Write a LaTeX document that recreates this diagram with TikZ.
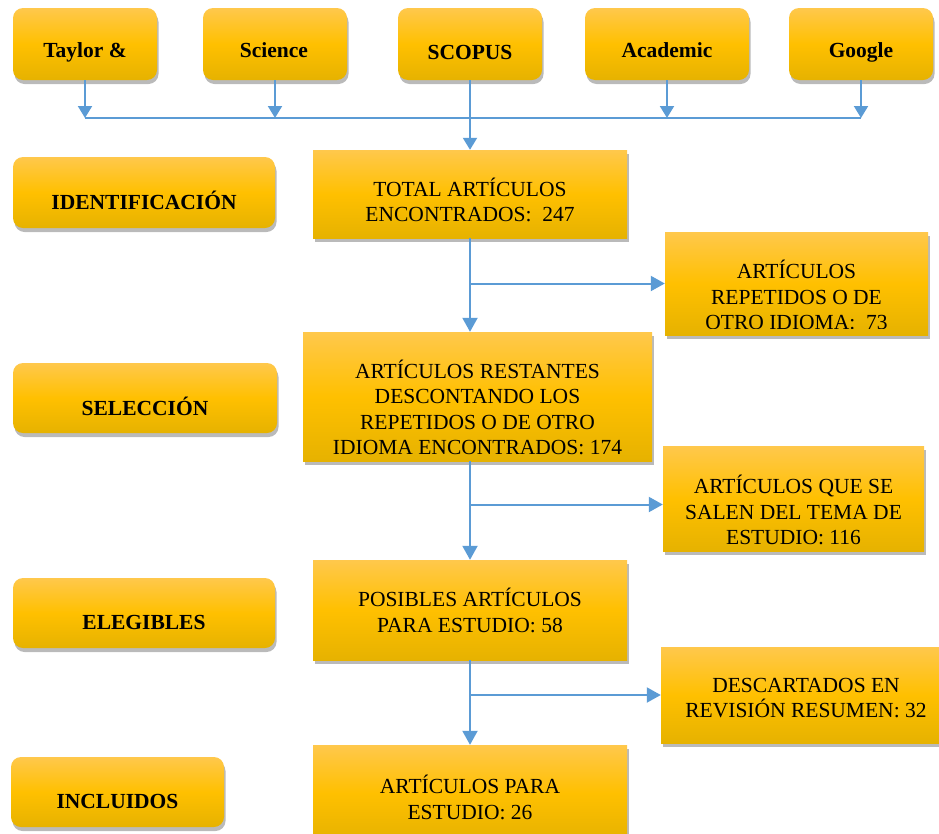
\documentclass[tikz,border=0pt]{standalone}
\usepackage{fontspec}
\setmainfont{Liberation Serif}
\usetikzlibrary{shadows,arrows.meta}
\definecolor{gtop}{HTML}{FFC84C}
\definecolor{gmid}{HTML}{FFC000}
\definecolor{gbot}{HTML}{E6B200}
\definecolor{arr}{HTML}{5B9BD5}
\begin{document}
\begin{tikzpicture}[x=1pt,y=-1pt,
  box/.style={rectangle, top color=gtop, bottom color=gbot, middle color=gmid, draw=none,
    drop shadow={shadow xshift=1.5pt, shadow yshift=-4pt, opacity=0.45, fill=black!60},
    inner sep=0pt},
  rbox/.style={box, rounded corners=10pt},
  txt/.style={align=center, inner sep=0pt, font=\fontsize{21.5}{25.5}\selectfont},
  btxt/.style={align=center, inner sep=0pt, anchor=base, font=\bfseries\fontsize{21.5}{25}\selectfont},
  conn/.style={draw=arr, line width=2pt, -{Triangle[length=12pt,width=14pt]}},
  flow/.style={draw=arr, line width=2pt, -{Triangle[length=14pt,width=15pt]}},
  line/.style={draw=arr, line width=2pt}
]
\useasboundingbox (0,0) rectangle (939,833);
% top source boxes
\node[rbox, minimum width=144pt, minimum height=72pt] (ta) at (85,44) {};
\node[rbox, minimum width=144pt, minimum height=72pt] (sc) at (275,44) {};
\node[rbox, minimum width=144pt, minimum height=72pt] (sco) at (470,44) {};
\node[rbox, minimum width=164pt, minimum height=72pt] (ac) at (667,44) {};
\node[rbox, minimum width=144pt, minimum height=72pt] (go) at (861,44) {};
\node[btxt] (tta) at (85,57) {Taylor \&};
\node[btxt] (tsc) at (274,57) {Science};
\node[btxt] (tsco) at (470,59.5) {SCOPUS};
\node[btxt] (tac) at (667,57) {Academic};
\node[btxt] (tgo) at (861,57) {Google};
% left stage boxes
\node[rbox, minimum width=262pt, minimum height=71pt] (id) at (144,192.5) {};
\node[rbox, minimum width=264pt, minimum height=70pt] (sel) at (145,398) {};
\node[rbox, minimum width=262pt, minimum height=70pt] (ele) at (144,613) {};
\node[rbox, minimum width=213pt, minimum height=70pt] (inc) at (117.5,792) {};
\node[btxt] (tid) at (144,209) {IDENTIFICACIÓN};
\node[btxt] (tsel) at (145,415) {SELECCIÓN};
\node[btxt] (tele) at (144,629) {ELEGIBLES};
\node[btxt] (tinc) at (117.5,808) {INCLUIDOS};
% center boxes
\node[box, minimum width=314pt, minimum height=88pt] (tot) at (470,194) {};
\node[box, minimum width=263pt, minimum height=103pt] (rep) at (796.5,283.5) {};
\node[box, minimum width=349pt, minimum height=129pt] (res) at (477.5,396.5) {};
\node[box, minimum width=261pt, minimum height=105pt] (tema) at (793.5,498.5) {};
\node[box, minimum width=314pt, minimum height=100pt] (pos) at (470,610) {};
\node[box, minimum width=290pt, minimum height=96pt] (des) at (806,695) {};
\node[box, minimum width=314pt, minimum height=96pt] (para) at (470,793) {};
\node[txt] (ttot) at (470,200) {TOTAL ARTÍCULOS\\ENCONTRADOS:\ \ 247};
\begin{scope}
\clip (rep.north west) rectangle ([yshift=7pt]rep.south east);
\node[txt] (trep) at (796.5,295) {ARTÍCULOS\\REPETIDOS O DE\\OTRO IDIOMA:\ \ 73};
\end{scope}
\node[txt] (tres) at (477.5,407.5) {ARTÍCULOS RESTANTES\\DESCONTANDO LOS\\REPETIDOS O DE OTRO\\IDIOMA ENCONTRADOS: 174};
\node[txt] (ttema) at (793.5,510) {ARTÍCULOS QUE SE\\SALEN DEL TEMA DE\\ESTUDIO: 116};
\node[txt] (tpos) at (470,610.5) {POSIBLES ARTÍCULOS\\PARA ESTUDIO: 58};
\node[txt] (tdes) at (806,698) {DESCARTADOS EN\\REVISIÓN RESUMEN: 32};
\node[txt] (tpara) at (470,797.5) {ARTÍCULOS PARA\\ESTUDIO: 26};
% top connectors
\coordinate (hy) at (0,118);
\draw[conn] (ta.south) -- (ta.south |- hy);
\draw[conn] (sc.south) -- (sc.south |- hy);
\draw[conn] (ac.south) -- (ac.south |- hy);
\draw[conn] (go.south) -- (go.south |- hy);
\draw[line] (ta.south |- hy) -- (go.south |- hy);
\draw[conn] (sco.south) -- (tot.north);
% flow connectors
\coordinate (temain) at ([yshift=-6pt]tema.west);
\draw[flow] (tot.south) -- (tot.south |- res.north);
\draw[flow] (tot.south |- rep.west) -- (rep.west);
\draw[flow] (tot.south |- res.south) -- (tot.south |- pos.north);
\draw[flow] (tot.south |- temain) -- (temain);
\draw[flow] (pos.south) -- (para.north);
\draw[flow] (pos.south |- des.west) -- (des.west);
\end{tikzpicture}
\end{document}
